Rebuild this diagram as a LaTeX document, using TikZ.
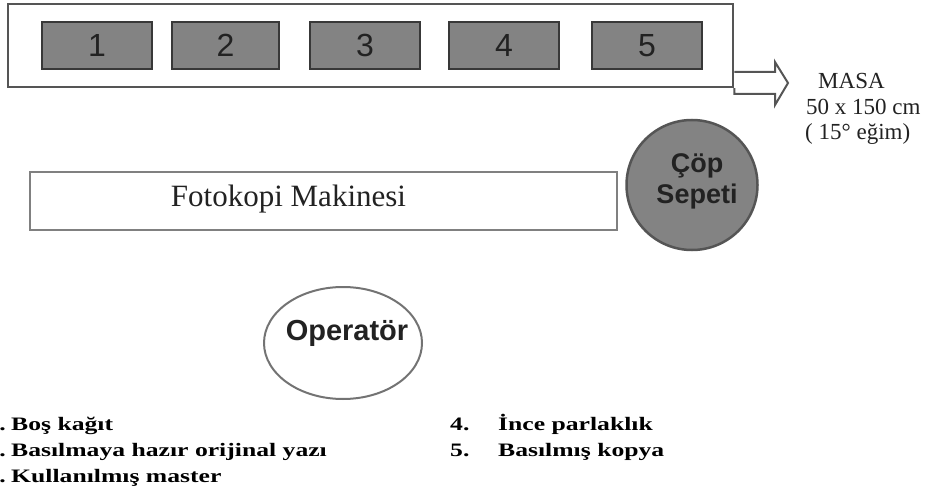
\documentclass[tikz,border=0pt]{standalone}
\usepackage{fontspec}
\setmainfont{Liberation Serif}
\newfontfamily\sansf{Liberation Sans}
\usetikzlibrary{shapes.geometric}
\definecolor{lineg}{HTML}{555555}
\definecolor{boxg}{HTML}{838383}
\definecolor{txt}{HTML}{222222}
\newcommand{\legstretch}[1]{\scalebox{1.35}[1]{#1}}
\begin{document}
\begin{tikzpicture}[x=1pt,y=-1pt,
  numbox/.style={draw=txt!90,line width=2pt,fill=boxg,minimum width=110pt,minimum height=47pt,inner sep=0pt,text=txt,font=\sansf\fontsize{32}{32}\selectfont},
  legend/.style={anchor=base west,inner sep=0pt,font=\bfseries\fontsize{19}{19}\selectfont},
  masatext/.style={anchor=base west,inner sep=0pt,text=txt,font=\fontsize{23}{23}\selectfont}]
\useasboundingbox (0,0) rectangle (926,489);
\clip (0,0) rectangle (926,489);
% table
\node (masa) [draw=lineg,line width=2.5pt,minimum width=725pt,minimum height=83pt,inner sep=0pt] at (370.5,45.5) {};
\node (b1) [numbox] at (97,45.5) {1};
\node (b2) [numbox,minimum width=107pt] at (225.5,45.5) {2};
\node (b3) [numbox] at (365,45.5) {3};
\node (b4) [numbox] at (504,45.5) {4};
\node (b5) [numbox] at (647,45.5) {5};
% block arrow
\coordinate (tip) at (788,83);
\draw[lineg,line width=2pt,line join=miter]
  (masa.east |- 0,72) -- (775,72) -- (775,62) -- (tip) -- (775,105) -- (775,94) -- (masa.east |- 0,94) -- (masa.south east);
\node (m1) [masatext] at (818,89) {MASA};
\node (m2) [masatext] at (806,115) {50 x 150 cm};
\node (m3) [masatext] at (805,140) {( 15° eğim)};
% basket
\node (cop) [ellipse,draw=lineg,line width=2.5pt,fill=boxg,minimum width=131pt,minimum height=130pt,inner sep=0pt] at (692,185) {};
\node (copt) [align=center,inner sep=0pt,text=txt,font=\sansf\bfseries\fontsize{27}{31}\selectfont] at (697,181) {Çöp\\Sepeti};
% copier
\node (foto) [draw=black!50,line width=2.5pt,minimum width=587pt,minimum height=58pt,inner sep=0pt] at (323.5,201) {};
\node (fotot) [inner sep=0pt,text=txt,font=\fontsize{31}{31}\selectfont] at (288.5,199) {Fotokopi Makinesi};
% operator
\node (op) [ellipse,draw=black!55,line width=2pt,minimum width=158pt,minimum height=112pt,inner sep=0pt] at (343,343) {};
\node (opt) [inner sep=0pt,text=txt,font=\sansf\bfseries\fontsize{29}{29}\selectfont] at (347,333) {Operatör};
% legend
\node (n1) [legend,anchor=base east] at (6,430) {\legstretch{1.}};
\node (l1) [legend] at (11,430) {\legstretch{Boş kağıt}};
\node (n2) [legend,anchor=base east] at (6,456) {\legstretch{2.}};
\node (l2) [legend] at (11,456) {\legstretch{Basılmaya hazır orijinal yazı}};
\node (n3) [legend,anchor=base east] at (6,482) {\legstretch{3.}};
\node (l3) [legend] at (11,482) {\legstretch{Kullanılmış master}};
\node (n4) [legend] at (450,430) {\legstretch{4.}};
\node (l4) [legend] at (498,430) {\legstretch{İnce parlaklık}};
\node (n5) [legend] at (450,456) {\legstretch{5.}};
\node (l5) [legend] at (498,456) {\legstretch{Basılmış kopya}};
\end{tikzpicture}
\end{document}
